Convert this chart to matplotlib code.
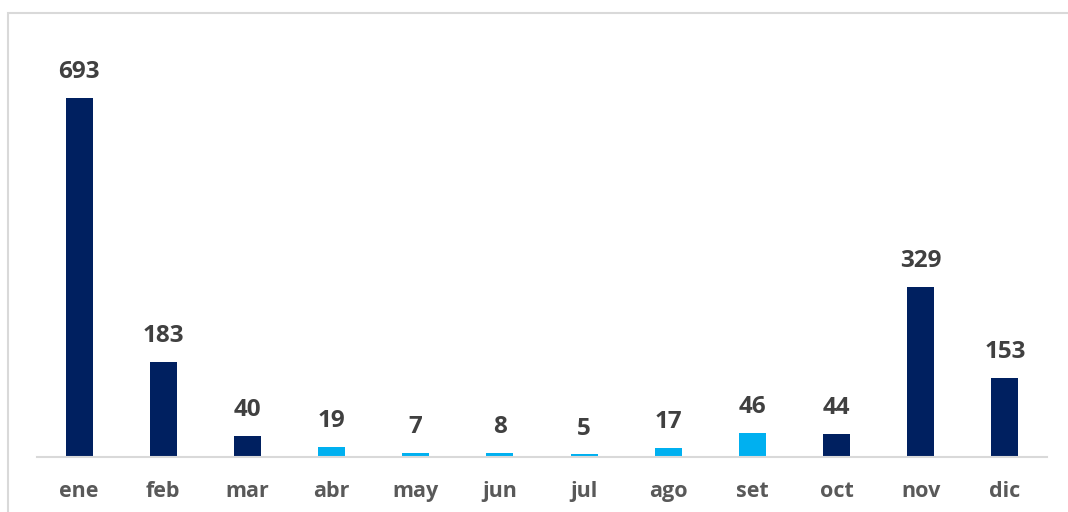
import matplotlib.pyplot as plt
from matplotlib.patches import Rectangle

meses = ['ene', 'feb', 'mar', 'abr', 'may', 'jun', 'jul', 'ago', 'set', 'oct', 'nov', 'dic']
valores = [693, 183, 40, 19, 7, 8, 5, 17, 46, 44, 329, 153]
# abr-set in light blue, the rest dark navy
claros = ['abr', 'may', 'jun', 'jul', 'ago', 'set']

AZUL = '#002060'
CELESTE = '#00B0F0'

plt.rcParams['font.family'] = ['Open Sans', 'DejaVu Sans']

fig = plt.figure(figsize=(10.68, 5.12), dpi=100)
# light gray chart border (only left/top visible in the crop)
fig.patches.append(Rectangle((8 / 1068, -0.1), 1.2, 1.1 - 13 / 512,
                             transform=fig.transFigure, fill=False,
                             edgecolor='#D9D9D9', linewidth=1.5))

ax = fig.add_axes([37 / 1068, 55 / 512, 1010 / 1068, 414 / 512])
colores = [CELESTE if m in claros else AZUL for m in meses]
x = range(len(meses))
ax.bar(x, valores, width=0.32, color=colores)

for xi, v in zip(x, valores):
    ax.annotate(str(v), (xi, v), xytext=(0, 10), textcoords='offset points',
                ha='center', va='bottom', fontsize=17.5, fontweight='bold',
                color='#404040')

ax.set_xlim(-0.5, 11.5)
ax.set_ylim(0, 800)
ax.set_xticks(list(x))
ax.set_xticklabels(meses, fontsize=15.5, fontweight='bold', color='#595959')
ax.tick_params(axis='x', length=0, pad=17)
ax.set_yticks([])
for s in ['top', 'right', 'left']:
    ax.spines[s].set_visible(False)
ax.spines['bottom'].set_color('#D9D9D9')
ax.spines['bottom'].set_linewidth(1.5)

fig.savefig('out.png', dpi=100)
